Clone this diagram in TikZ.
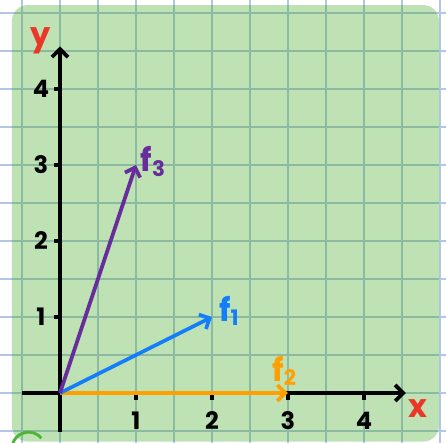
\documentclass[tikz,border=0pt]{standalone}
\usepackage{fontspec}
\setmainfont{Poppins}
\usetikzlibrary{arrows.meta}
\definecolor{paper}{RGB}{191,226,181}
\definecolor{gridin}{RGB}{140,186,160}
\definecolor{gridout}{RGB}{178,198,232}
\definecolor{vblue}{RGB}{20,125,250}
\definecolor{vorange}{RGB}{255,160,0}
\definecolor{vpurple}{RGB}{105,45,155}
\definecolor{labred}{RGB}{235,55,40}
\definecolor{scrib}{RGB}{80,180,60}

\begin{document}
\begin{tikzpicture}[>={Straight Barb[length=3pt,width=6pt]},
  vec/.style={line width=1.4pt,->},
  axis/.style={line width=1.4pt,->},
  ticklab/.style={font=\bfseries\small},
  veclab/.style={font=\bfseries\large}]
\useasboundingbox (-0.789,-0.645) rectangle (5.079,5.171);
\clip (-0.789,-0.645) rectangle (5.079,5.171);
\fill[white] (-0.789,-0.645) rectangle (5.079,5.171);
\draw[gridout,line width=0.5pt] (-1,-1) grid[step=0.5] (5.5,5.5);
\fill[paper,rounded corners=6pt] (-0.632,-0.64) rectangle (4.987,5.105);
\begin{scope}
\clip[rounded corners=6pt] (-0.632,-0.64) rectangle (4.987,5.105);
\draw[gridin,line width=0.5pt] (-1,-1) grid[step=0.5] (5.5,5.5);
\end{scope}
\draw[scrib,line width=1.1pt] (-0.62,-0.66) arc[start angle=160,end angle=40,radius=0.22];
\coordinate (O) at (0,0);
\coordinate (xs) at (-0.5,0);
\coordinate (xe) at (4.55,0);
\coordinate (ys) at (0,-0.51);
\coordinate (ye) at (0,4.56);
\draw[axis] (xs) -- (xe);
\draw[axis] (ys) -- (ye);
\node[labred,font=\bfseries\large] (xlab) at (4.71,-0.2) {x};
\node[labred,font=\bfseries\large] (ylab) at (-0.26,4.64) {y};
\foreach \i in {1,...,4} {
  \draw[line width=1.2pt] (\i,0) -- (\i,-0.09);
  \node[ticklab] (xt\i) at (\i,-0.36) {\i};
  \draw[line width=1.2pt] (0,\i) -- (-0.08,\i);
  \node[ticklab] (yt\i) at (-0.25,\i) {\i};
}
\coordinate (F1) at (2,1);
\coordinate (F2) at (3,0);
\coordinate (F3) at (1,3);
\draw[vec,vorange] (O) -- (F2);
\draw[vec,vblue] (O) -- (F1);
\draw[vec,vpurple] (O) -- (F3);
\node[veclab,vblue] (f1) at (2.23,1.08) {f\textsubscript{1}};
\node[veclab,vorange] (f2) at (2.96,0.29) {f\textsubscript{2}};
\node[veclab,vpurple] (f3) at (1.23,3.04) {f\textsubscript{3}};
\end{tikzpicture}
\end{document}
